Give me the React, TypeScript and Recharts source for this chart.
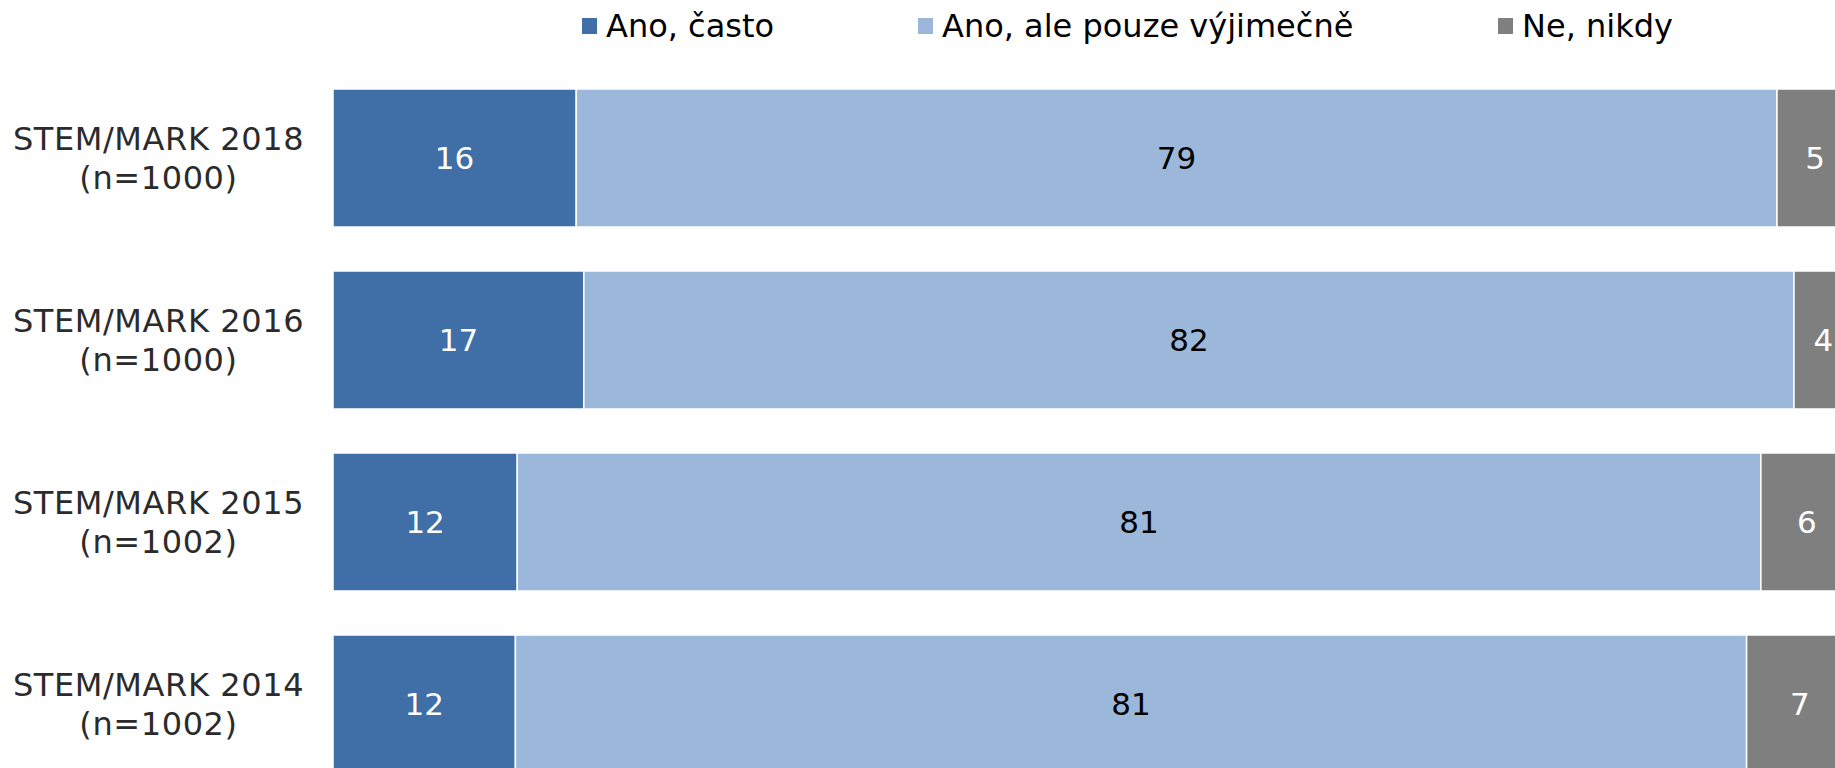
import { Bar, BarChart, XAxis, YAxis } from 'recharts';

// survey waves, top to bottom
const categories = ['STEM/MARK 2018', 'STEM/MARK 2016', 'STEM/MARK 2015', 'STEM/MARK 2014'];
const sampleSizes = ['(n=1000)', '(n=1000)', '(n=1002)', '(n=1002)'];

// percentages as printed on the bars
const often = [16, 17, 12, 12];
const rarely = [79, 82, 81, 81];
const never = [5, 4, 6, 7];

const seriesNames = ['Ano, často', 'Ano, ale pouze výjimečně', 'Ne, nikdy'];
const COLORS = ['#406ea6', '#9bb7d9', '#7f7f7f'];
const LABEL_COLORS = ['#ffffff', '#000000', '#ffffff'];
const LEGEND_WIDTHS = [336, 580, 200];

const FONT = "'DejaVu Sans', Verdana, sans-serif";
const AXIS_W = 333;

const data = categories.map((name, i) => ({
  name,
  often: often[i],
  rarely: rarely[i],
  never: never[i],
}));

const SERIES: { key: 'often' | 'rarely' | 'never'; values: number[] }[] = [
  { key: 'often', values: often },
  { key: 'rarely', values: rarely },
  { key: 'never', values: never },
];

const CategoryTick = (props: any) => {
  const { y, payload, index } = props;
  const cx = AXIS_W / 2 - 8;
  const style = { letterSpacing: '0.6px' };
  return (
    <g>
      <text x={cx} y={y - 8.5} textAnchor="middle" fill="#2b2b2b" fontSize={32} fontFamily={FONT} style={style}>
        {payload.value}
      </text>
      <text x={cx} y={y + 30.5} textAnchor="middle" fill="#2b2b2b" fontSize={32} fontFamily={FONT} style={style}>
        {sampleSizes[index]}
      </text>
    </g>
  );
};

const makeLabel = (s: number) => (p: any) => {
  const { x, y, width, height, index } = p;
  return (
    <text
      x={x + width / 2}
      y={y + height / 2}
      textAnchor="middle"
      dominantBaseline="central"
      fill={LABEL_COLORS[s]}
      fontSize={31}
      fontFamily={FONT}
    >
      {SERIES[s].values[index]}
    </text>
  );
};

export default function App() {
  return (
    <div
      style={{
        position: 'absolute',
        left: 0,
        top: 0,
        width: 1835,
        height: 768,
        overflow: 'hidden',
        background: '#fff',
      }}
    >
      <div
        style={{
          position: 'absolute',
          left: 582,
          top: 7,
          display: 'flex',
          alignItems: 'center',
          fontFamily: FONT,
          fontSize: 32,
          color: '#000',
          whiteSpace: 'nowrap',
          zIndex: 2,
        }}
      >
        {seriesNames.map((n, i) => (
          <div key={n} style={{ display: 'flex', alignItems: 'center', width: LEGEND_WIDTHS[i] }}>
            <span style={{ display: 'inline-block', width: 15, height: 16, background: COLORS[i], marginRight: 9 }} />
            <span>{n}</span>
          </div>
        ))}
      </div>
      <BarChart
        width={1870}
        height={800}
        data={data}
        layout="vertical"
        stackOffset="expand"
        margin={{ top: 67, right: 17, left: 0, bottom: 5 }}
      >
        <XAxis type="number" hide domain={[0, 1]} />
        <YAxis
          type="category"
          dataKey="name"
          width={AXIS_W}
          axisLine={false}
          tickLine={false}
          tick={<CategoryTick />}
        />
        {SERIES.map((s, i) => (
          <Bar
            key={s.key}
            dataKey={s.key}
            stackId="a"
            fill={COLORS[i]}
            stroke="#ffffff"
            strokeWidth={1.5}
            barSize={138}
            isAnimationActive={false}
            label={makeLabel(i)}
          />
        ))}
      </BarChart>
    </div>
  );
}
